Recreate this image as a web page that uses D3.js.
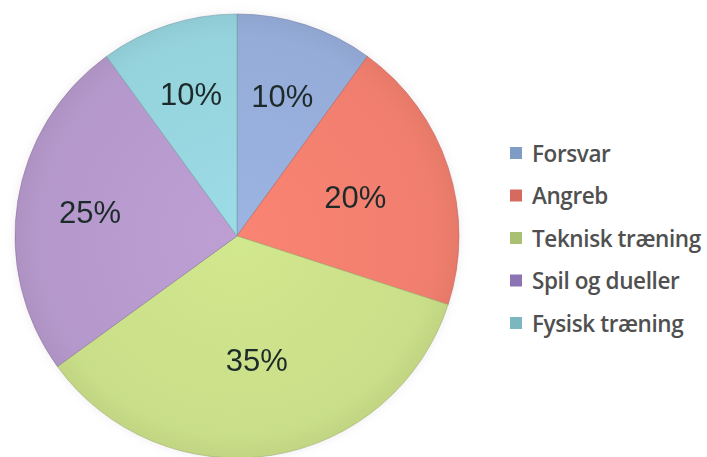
<!DOCTYPE html>
<html><head><meta charset="utf-8">
<script src="https://cdn.jsdelivr.net/npm/d3@7"></script>
<style>body{margin:0;background:#fff;}svg{display:block;}</style>
</head><body>
<svg id="c" width="707" height="457"></svg>
<script>
const categories = ["Forsvar", "Angreb", "Teknisk træning", "Spil og dueller", "Fysisk træning"];
const values = [10, 20, 35, 25, 10];
const labels = ["10%", "20%", "35%", "25%", "10%"];
const colors = ["#95acd9", "#f07e6e", "#c9de88", "#b598cb", "#95d3dc"];
const legendColors = ["#7f9cc4", "#d66a5e", "#a9bf72", "#8b73b4", "#7cb6bf"];

const W = 707, H = 457;
const cx = 237, cy = 236, R = 222;
const labelFrac = [0.66, 0.56, 0.57, 0.67, 0.67];

const svg = d3.select("#c");
const defs = svg.append("defs");

const f = defs.append("filter").attr("id","glow").attr("x","-10%").attr("y","-10%").attr("width","120%").attr("height","120%");
f.append("feGaussianBlur").attr("in","SourceAlpha").attr("stdDeviation",4).attr("result","b");
f.append("feFlood").attr("flood-color","#c9b8c8").attr("flood-opacity",0.3);
f.append("feComposite").attr("in2","b").attr("operator","in").attr("result","s");
const m = f.append("feMerge");
m.append("feMergeNode").attr("in","s");
m.append("feMergeNode").attr("in","SourceGraphic");

colors.forEach((c,i)=>{
  const g = defs.append("radialGradient").attr("id","g"+i)
    .attr("gradientUnits","userSpaceOnUse").attr("cx",0).attr("cy",0).attr("r",R);
  g.append("stop").attr("offset","0%").attr("stop-color",d3.color(c).brighter(0.12));
  g.append("stop").attr("offset","90%").attr("stop-color",c);
  g.append("stop").attr("offset","100%").attr("stop-color",d3.color(c).darker(0.12));
});

const pie = d3.pie().sort(null).value(d=>d);
const arcs = pie(values);
const arc = d3.arc().innerRadius(0).outerRadius(R);

const g = svg.append("g").attr("transform",`translate(${cx},${cy})`).attr("filter","url(#glow)");
g.selectAll("path.s").data(arcs).join("path").attr("class","s")
  .attr("d",arc)
  .attr("fill",(d,i)=>`url(#g${i})`)
  .attr("stroke",(d,i)=>d3.color(colors[i]).darker(0.7))
  .attr("stroke-width",1)
  .attr("stroke-opacity",0.6);

g.selectAll("text.l").data(arcs).join("text").attr("class","l")
  .attr("transform",(d,i)=>{
    const a = d3.arc().innerRadius(R*labelFrac[i]).outerRadius(R*labelFrac[i]);
    const [x,y] = a.centroid(d);
    return `translate(${x},${y})`;
  })
  .attr("text-anchor","middle").attr("dominant-baseline","central")
  .attr("font-family","'Liberation Sans', Arial, sans-serif")
  .attr("font-size",31).attr("fill","#1d2b2b")
  .text((d,i)=>labels[i]);

const y = d3.scalePoint().domain(categories).range([153, 323]);
const lg = svg.append("g");
const items = lg.selectAll("g").data(categories).join("g")
  .attr("transform",d=>`translate(510,${y(d)})`);
items.append("rect").attr("x",0).attr("y",-6).attr("width",12).attr("height",12)
  .attr("fill",(d,i)=>legendColors[i]);
items.append("text").attr("x",22).attr("y",0).attr("dominant-baseline","central")
  .attr("font-family","'Open Sans', sans-serif").attr("font-size",22.5).attr("font-weight",600)
  .attr("letter-spacing",-0.4)
  .attr("fill","#505050").text(d=>d);
</script>
</body></html>
